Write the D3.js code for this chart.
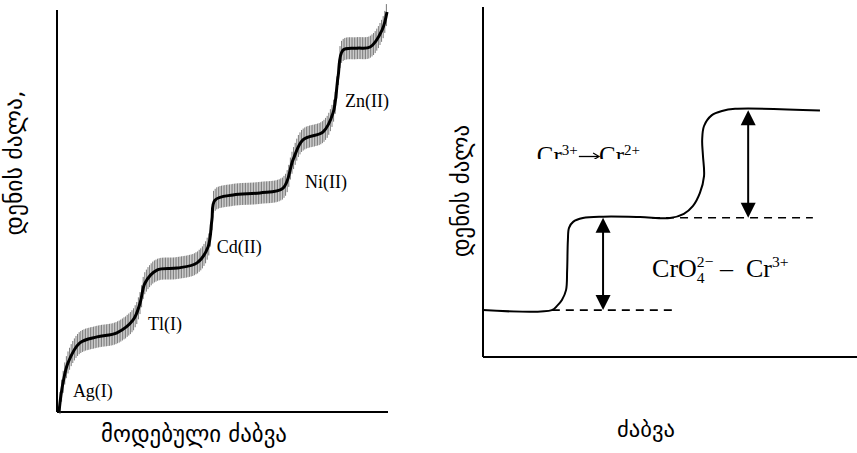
<!DOCTYPE html>
<html><head><meta charset="utf-8">
<script src="https://cdn.jsdelivr.net/npm/d3@7"></script>
<style>body{margin:0;background:#fff}svg{display:block}</style>
</head><body>
<svg id="c" width="857" height="453"></svg>
<script>
// ---------- left panel: polarogram of a mixture ----------
const waveVoltage = [0.6,1.2,1.8,3.3,6.9,12.1,18.1,23.0,25.1,26.6,30.2,36.3,42.3,45.6,46.8,47.7,53.2,61.3,68.3,71.3,74.3,80.4,83.4,84.9,86.4,90.6,94.6,98.2,99.7];
const waveCurrent = [0,4.2,7.2,12.2,17.2,18.7,19.7,22.9,27.1,32.1,35.3,35.8,37.1,41.0,47.8,52.7,54.0,54.5,55.7,62.7,67.7,69.7,74.4,83.3,90.0,90.5,90.8,95.0,99.5];
const ionNames = ["Ag(I)","Tl(I)","Cd(II)","Ni(II)","Zn(II)"];
const ionLabelVoltage = [4.8,27.5,48.3,74.9,87.0];
const ionLabelCurrent = [3.7,20.4,39.6,55.7,75.9];
const leftXTitle = "მოდებული ძაბვა";
const leftYTitle = "დენის ძალა,";

// ---------- right panel: chromate reduction ----------
const crVoltage = [0,18.4,19.8,21.1,22.2,22.5,22.7,23.0,24.1,26.7,32.1,42.0,50.0,53.7,56.1,58.0,59.1,58.8,58.6,59.1,61.2,63.9,67.4,90.1];
const crCurrent = [13.4,13.4,14.6,16.3,19.1,24.9,33.4,36.9,38.6,39.7,40.1,40.0,39.7,40.9,43.1,46.9,51.7,57.7,62.0,66.0,69.1,70.3,70.9,70.4];
const limitLevels = [13.4,39.8,70.5];
const dashStart = [18.4,45.2];
const dashEnd = [50.8,88.2];
const arrowVoltage = [32.1,70.9];
const rightXTitle = "ძაბვა";
const rightYTitle = "დენის ძალა";

const svg = d3.select("#c");
const geo = "'DejaVu Sans', sans-serif";
const serif = "'Liberation Serif', 'Times New Roman', serif";

// ===== left =====
const lx = d3.scaleLinear().domain([0,100]).range([57,388]);
const ly = d3.scaleLinear().domain([0,100]).range([412,10]);
const L = svg.append("g");
L.append("line").attr("x1",lx(0)).attr("x2",lx(0)).attr("y1",ly(100)).attr("y2",ly(0)).attr("stroke","#000").attr("stroke-width",2);
L.append("line").attr("x1",lx(0)).attr("x2",lx(100)).attr("y1",ly(0)).attr("y2",ly(0)).attr("stroke","#000").attr("stroke-width",2);

const wavePts = waveVoltage.map((v,i)=>[lx(v),ly(waveCurrent[i])]);
const lineL = d3.line().curve(d3.curveCatmullRom.alpha(0.5));
const hatchG = L.append("g");
const mainPath = L.append("path").attr("d",lineL(wavePts)).attr("fill","none").attr("stroke","#000").attr("stroke-width",3);
// hatching (oscillation of the dropping electrode)
const pNode = mainPath.node();
const total = pNode.getTotalLength();
const samples = [];
for (let s=0; s<=total; s+=0.5) { const p=pNode.getPointAtLength(s); samples.push([p.x,p.y]); }
samples.sort((a,b)=>a[0]-b[0]);
const xs0 = wavePts[0][0], xs1 = wavePts[wavePts.length-1][0];
const bis = d3.bisector(d=>d[0]).left;
const hatch = [];
for (let x=xs0+1; x<=xs1; x+=1.6) {
  const i = Math.min(samples.length-1, bis(samples,x));
  hatch.push([x, samples[i][1]]);
}
hatchG.selectAll("line").data(hatch).join("line")
  .attr("x1",d=>d[0]).attr("x2",d=>d[0])
  .attr("y1",d=>d[1]-11).attr("y2",d=>d[1]+11)
  .attr("stroke","#555").attr("stroke-width",0.8);

L.selectAll("text.ion").data(ionNames).join("text").attr("class","ion")
  .attr("x",(d,i)=>lx(ionLabelVoltage[i])).attr("y",(d,i)=>ly(ionLabelCurrent[i]))
  .attr("font-family",serif).attr("font-size",18).text(d=>d);

function fit(sel, w){ const n=sel.node(); const fs=+sel.attr("font-size"); const cw=n.getComputedTextLength(); sel.attr("font-size",fs*w/cw); }

const lxt = L.append("text").attr("x",194).attr("y",442).attr("text-anchor","middle").attr("font-family",geo).attr("font-size",18).text(leftXTitle);
fit(lxt,186);
const lyt = L.append("text").attr("transform","translate(22,163) rotate(-90)").attr("text-anchor","middle").attr("font-family",geo).attr("font-size",18).text(leftYTitle);
fit(lyt,145);

// ===== right =====
const rx = d3.scaleLinear().domain([0,100]).range([483,857]);
const ry = d3.scaleLinear().domain([0,100]).range([357,7]);
const R = svg.append("g");
R.append("line").attr("x1",rx(0)).attr("x2",rx(0)).attr("y1",ry(100)).attr("y2",ry(0)).attr("stroke","#000").attr("stroke-width",2);
R.append("line").attr("x1",rx(0)).attr("x2",rx(100)).attr("y1",ry(0)).attr("y2",ry(0)).attr("stroke","#000").attr("stroke-width",2);
const crPts = crVoltage.map((v,i)=>[rx(v),ry(crCurrent[i])]);
R.append("path").attr("d",d3.line().curve(d3.curveCatmullRom.alpha(0.5))(crPts)).attr("fill","none").attr("stroke","#000").attr("stroke-width",2);
dashStart.forEach((v,i)=>{
  R.append("line").attr("x1",rx(v)).attr("x2",rx(dashEnd[i])).attr("y1",ry(limitLevels[i])).attr("y2",ry(limitLevels[i]))
   .attr("stroke","#000").attr("stroke-width",1.6).attr("stroke-dasharray","8,6");
});
arrowVoltage.forEach((v,i)=>{
  const x=rx(v), yb=ry(limitLevels[i]), yt=ry(limitLevels[i+1]);
  R.append("line").attr("x1",x).attr("x2",x).attr("y1",yt+10).attr("y2",yb-10).attr("stroke","#000").attr("stroke-width",2);
  R.append("path").attr("d",`M${x},${yt}L${x-7.5},${yt+15}L${x+7.5},${yt+15}Z`).attr("fill","#000");
  R.append("path").attr("d",`M${x},${yb}L${x-7.5},${yb-15}L${x+7.5},${yb-15}Z`).attr("fill","#000");
});

// chemistry labels
const fsC = 26;
function chem(parent, x, y, parts, fs){
  let cx = x;
  parts.forEach(p=>{
    if (p[1]==="n"){
      const t=parent.append("text").attr("x",cx).attr("y",y).attr("font-family",serif).attr("font-size",fs).attr("xml:space","preserve").text(p[0]);
      cx += t.node().getComputedTextLength();
    } else if (p[1]==="sup"){
      const t=parent.append("text").attr("x",cx).attr("y",y-fs*0.38).attr("font-family",serif).attr("font-size",fs*0.6).text(p[0]);
      cx += t.node().getComputedTextLength();
    } else if (p[1]==="arrow"){
      const w = fs*0.85, ay = y - fs*0.3;
      parent.append("line").attr("x1",cx+1).attr("x2",cx+w-1).attr("y1",ay).attr("y2",ay).attr("stroke","#000").attr("stroke-width",1.3);
      parent.append("path").attr("d",`M${cx+w-6},${ay-3.5}L${cx+w},${ay}L${cx+w-6},${ay+3.5}`).attr("fill","none").attr("stroke","#000").attr("stroke-width",1.2);
      cx += w;
    } else {
      const a=parent.append("text").attr("x",cx).attr("y",y-fs*0.38).attr("font-family",serif).attr("font-size",fs*0.6).text(p[0]);
      const b=parent.append("text").attr("x",cx).attr("y",y+fs*0.24).attr("font-family",serif).attr("font-size",fs*0.6).text(p[2]);
      cx += Math.max(a.node().getComputedTextLength(), b.node().getComputedTextLength());
    }
  });
}
chem(R, rx(45.2), ry(22.9), [["CrO","n"],["2−","ss","4"],[" –  Cr","n"],["3+","sup"]], fsC);
svg.append("clipPath").attr("id","clipT").append("rect").attr("x",0).attr("y",0).attr("width",857).attr("height",159);
const gT = R.append("g").attr("clip-path","url(#clipT)");
chem(gT, rx(14.4), 164, [["Cr","n"],["3+","sup"],["→","arrow"],["Cr","n"],["2+","sup"]], 25);

const rxt = R.append("text").attr("x",646).attr("y",437).attr("text-anchor","middle").attr("font-family",geo).attr("font-size",18).text(rightXTitle);
fit(rxt,58);
const ryt = R.append("text").attr("transform","translate(469,191) rotate(-90)").attr("text-anchor","middle").attr("font-family",geo).attr("font-size",18).text(rightYTitle);
fit(ryt,132);
</script>
</body></html>
